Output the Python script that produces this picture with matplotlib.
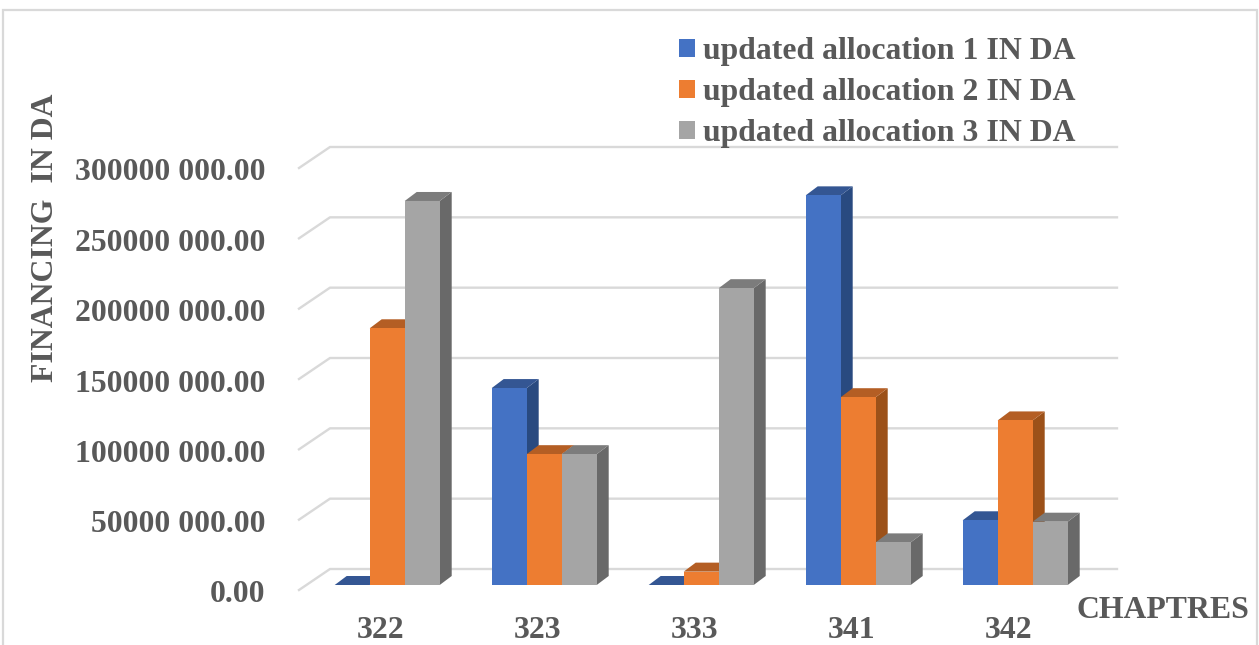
import matplotlib
matplotlib.use("Agg")
import matplotlib.pyplot as plt
from matplotlib.patches import Patch, Polygon, Rectangle
from matplotlib.transforms import ScaledTranslation

chapters = ["322", "323", "333", "341", "342"]
allocation_1 = [0, 140e6, 0, 277e6, 46e6]
allocation_2 = [182.5e6, 93e6, 9.5e6, 133.5e6, 117e6]
allocation_3 = [273e6, 93e6, 211e6, 30.3e6, 45e6]
series_names = ["updated allocation 1 IN DA", "updated allocation 2 IN DA", "updated allocation 3 IN DA"]
y_ticks = [0, 50e6, 100e6, 150e6, 200e6, 250e6, 300e6]
y_tick_labels = ["0.00", "50000 000.00", "100000 000.00", "150000 000.00",
                 "200000 000.00", "250000 000.00", "300000 000.00"]

# front, top and side colours of each series
face_colors = ["#4472C4", "#ED7D31", "#A5A5A5"]
top_colors = ["#345693", "#B45E24", "#7C7C7C"]
side_colors = ["#294A80", "#9C5119", "#696969"]

W, H = 1259, 645
TEXT = "#595959"
GRID = "#D9D9D9"
FONT = 22.9

plt.rcParams["font.family"] = ["Liberation Serif", "DejaVu Serif"]
plt.rcParams["font.weight"] = "bold"

fig = plt.figure(figsize=(W / 100, H / 100), dpi=100)
fig.add_artist(Rectangle((3 / W, -0.1), 1254 / W, 1.1 - 10 / H, transform=fig.transFigure,
                         fill=False, edgecolor=GRID, linewidth=1.6))

# axes box is the front edge of the floor, in pixels
left, right, bottom, top = 299, 1086, 590, 168
ax = fig.add_axes([left / W, 1 - bottom / H, (right - left) / W, (bottom - top) / H])
ax.set_xlim((left - 380.5) / 157, (right - 380.5) / 157)
ax.set_ylim(0, 300e6)
px_x = (ax.get_xlim()[1] - ax.get_xlim()[0]) / (right - left)
px_y = 300e6 / (bottom - top)

# pseudo 3D offsets, converted from pixels to data units
wall_dx, wall_dy = 31 * px_x, 21 * px_y
shift_x, shift_y = 6.7 * px_x, 5 * px_y
depth_x, depth_y = 12 * px_x, 9 * px_y
bar_w = 35 * px_x

for v in y_ticks:
    x0, x1 = ax.get_xlim()
    ax.plot([x0, x0 + wall_dx, x1 + wall_dx], [v, v + wall_dy, v + wall_dy],
            color=GRID, lw=1.7, clip_on=False, zorder=1)


def draw_bar(x, v, face, top_c, side):
    y0 = shift_y
    y1 = v + shift_y
    ax.add_patch(Polygon([(x + bar_w, y0), (x + bar_w + depth_x, y0 + depth_y),
                          (x + bar_w + depth_x, y1 + depth_y), (x + bar_w, y1)],
                         facecolor=side, edgecolor="none", clip_on=False, zorder=2))
    ax.add_patch(Polygon([(x, y1), (x + bar_w, y1), (x + bar_w + depth_x, y1 + depth_y),
                          (x + depth_x, y1 + depth_y)],
                         facecolor=top_c, edgecolor="none", clip_on=False, zorder=2))
    ax.add_patch(Rectangle((x, y0), bar_w, v, facecolor=face, edgecolor="none",
                           clip_on=False, zorder=2))


all_series = [allocation_1, allocation_2, allocation_3]
for i in range(len(chapters)):
    for s, values in enumerate(all_series):
        x = i + shift_x + (s - 1.5) * bar_w
        draw_bar(x, values[i], face_colors[s], top_colors[s], side_colors[s])

ax.set_xticks(range(len(chapters)), chapters)
ax.set_yticks(y_ticks, y_tick_labels)
ax.tick_params(axis="x", length=0, pad=19, labelsize=FONT, labelcolor=TEXT)
ax.tick_params(axis="y", length=0, pad=24, labelsize=FONT, labelcolor=TEXT)
for label in ax.get_yticklabels():
    label.set_transform(label.get_transform() + ScaledTranslation(0, -0.015, fig.dpi_scale_trans))
for spine in ax.spines.values():
    spine.set_visible(False)
ax.patch.set_alpha(0)

fig.text(1162.5 / W, 1 - 610 / H, "CHAPTRES", color=TEXT, fontsize=FONT, ha="center", va="center")
fig.text(46 / W, 1 - 238 / H, "FINANCING  IN DA", color=TEXT, fontsize=FONT,
         rotation=90, ha="center", va="center")

handles = [Patch(facecolor=c, edgecolor="none") for c in face_colors]
leg = ax.legend(handles, series_names, loc="upper left", bbox_to_anchor=(673 / W, 1 - 31 / H),
                bbox_transform=fig.transFigure, frameon=False, fontsize=FONT,
                handlelength=0.5, handleheight=0.5, handletextpad=0.25,
                labelspacing=0.37, borderpad=0.2, borderaxespad=0)
for t in leg.get_texts():
    t.set_color(TEXT)

fig.savefig("out.png", dpi=100)
